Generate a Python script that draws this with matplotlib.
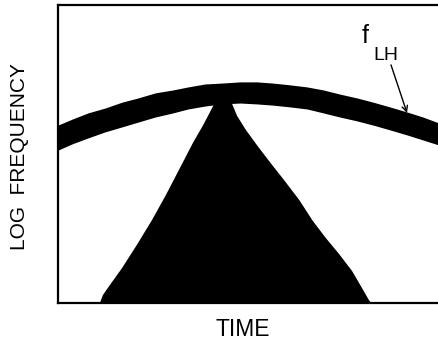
import matplotlib
matplotlib.use("Agg")
import matplotlib.pyplot as plt

plt.rcParams['font.family'] = ['Liberation Sans', 'DejaVu Sans']

# Lower-hybrid resonance band (upper and lower edges), arbitrary units
time = [0, 3.7, 7.9, 12.3, 16.8, 21.0, 25.5, 30.2, 34.1, 38.6, 43.0, 47.8,
        52.2, 56.4, 60.9, 65.4, 69.6, 74.0, 78.5, 82.7, 87.1, 91.6, 95.8, 100]
flh_upper = [59.7, 61.7, 63.8, 65.4, 67.4, 68.8, 70.5, 71.5, 72.5, 73.5, 73.8, 74.2,
             74.2, 73.8, 73.2, 72.5, 71.5, 70.1, 68.8, 67.4, 65.8, 64.1, 62.4, 60.4]
flh_lower = [51.3, 53.4, 55.4, 57.4, 59.1, 60.7, 62.4, 63.8, 65.1, 66.1, 66.8, 67.1,
             66.8, 66.4, 65.8, 65.1, 63.8, 62.4, 61.1, 59.7, 58.1, 56.4, 54.7, 53.0]

# Emission region outline: rising flank, apex under the band, falling flank
emis_time = [11.0, 11.8, 13.6, 16.8, 20.7, 24.7, 28.3, 32.0, 35.4, 38.1, 39.9, 41.0,
             43.0,
             45.7, 47.0, 49.3, 52.2, 55.6, 59.3, 63.3, 66.9, 70.3, 73.8, 77.2, 79.8,
             81.6, 82.2]
emis_freq = [0.0, 2.7, 6.0, 11.7, 19.5, 27.9, 36.2, 45.3, 53.7, 59.7, 64.1, 66.8,
             68.8,
             66.8, 62.8, 58.1, 53.0, 47.3, 41.3, 34.6, 27.5, 21.8, 16.4, 10.7, 5.0,
             1.0, 0.0]

fig = plt.figure(figsize=(4.39, 3.43), dpi=100)
ax = fig.add_axes([58 / 439, 40 / 343, 381 / 439, 298 / 343])

ax.fill_between(time, flh_lower, flh_upper, color='black', lw=0)
ax.fill(emis_time, emis_freq, color='black', lw=0)

ax.set_xlim(0, 100)
ax.set_ylim(0, 100)
ax.set_xticks([])
ax.set_yticks([])
for side in ('left', 'top', 'bottom'):
    ax.spines[side].set_linewidth(1.6)
    ax.spines[side].set_color('black')
ax.spines['right'].set_visible(False)

ax.set_xlabel('TIME', fontsize=16.5)
ax.xaxis.set_label_coords(0.486, -0.052)
ax.set_ylabel('LOG  FREQUENCY', fontsize=15)
ax.yaxis.set_label_coords(-0.076, 0.49)

ax.text(79.8, 87.2, 'f', fontsize=18, ha='left', va='baseline')
ax.text(82.7, 81.5, 'LH', fontsize=14, ha='left', va='baseline')
ax.annotate('', xy=(91.6, 63.8), xytext=(87.4, 79.9),
            arrowprops=dict(arrowstyle='->', lw=1.0, color='black',
                            mutation_scale=10, shrinkA=0, shrinkB=0))

fig.savefig('out.png', dpi=100, facecolor='white')
